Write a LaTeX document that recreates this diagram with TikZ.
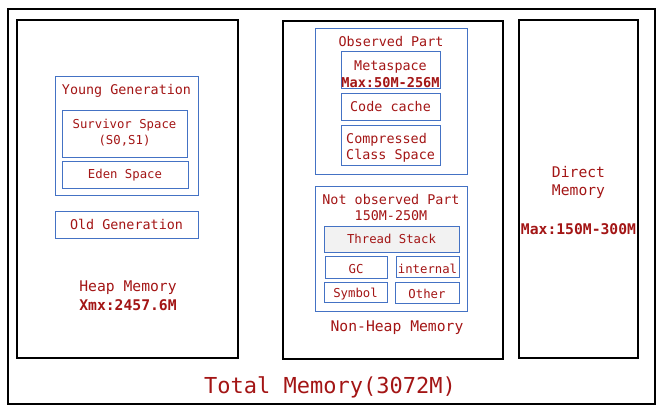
\documentclass[tikz,border=0pt]{standalone}
\usepackage{fontspec}
\setmainfont{DejaVu Sans Mono}
\usepackage{xcolor}
\definecolor{textred}{RGB}{163,21,21}
\definecolor{boxblue}{RGB}{68,114,196}
\definecolor{stackgray}{RGB}{242,242,242}

\tikzset{
	membox/.style={draw=black, line width=1.2pt},
	partbox/.style={draw=boxblue, line width=1pt, inner sep=0pt},
	small/.style={text=textred, inner sep=0pt, anchor=base, font=\fontsize{12.3}{15}\selectfont},
	lbl/.style={text=textred, inner sep=0pt, anchor=base, font=\fontsize{13.4}{16}\selectfont},
	biglbl/.style={text=textred, inner sep=0pt, anchor=base, font=\fontsize{14.7}{18}\selectfont},
}

\begin{document}
\begin{tikzpicture}[x=1pt, y=-1pt]
		\useasboundingbox (0,0) rectangle (664,416);
		
		% Rahmen Gesamtspeicher
		\draw[membox] (8,9) rectangle (655,404);
		\node[text=textred, inner sep=0pt, anchor=base, font=\fontsize{22}{26}\selectfont] (total) at (330,393) {Total Memory(3072M)};
		
		% Heap
		\draw[membox] (17,20) rectangle (238,358);
		\node[partbox, minimum width=143pt, minimum height=119pt] (young) at (126.5,135.5) {};
		\node[lbl] (young-label) at (126.5,94) {Young Generation};
		\node[partbox, minimum width=125pt, minimum height=47pt] (survivor) at (124.5,133.5) {};
		\node[small] (survivor-label) at (124.5,128) {Survivor Space};
		\node[small] (survivor-sub) at (124.5,144) {(S0,S1)};
		\node[partbox, minimum width=126pt, minimum height=27pt] (eden) at (125,174.5) {};
		\node[small] (eden-label) at (125,178) {Eden Space};
		\node[partbox, minimum width=143pt, minimum height=27pt] (old) at (126.5,224.5) {};
		\node[lbl] (old-label) at (126.5,229) {Old Generation};
		\node[biglbl] (heap) at (128,291) {Heap Memory};
		\node[biglbl, font=\fontsize{14.7}{18}\bfseries] (heap-max) at (128,310) {Xmx:2457.6M};
		
		% Non-Heap
		\draw[membox] (283,21) rectangle (503,359);
		\node[partbox, minimum width=152pt, minimum height=146pt] (observed) at (391,101) {};
		\node[lbl] (observed-label) at (391,46) {Observed Part};
		\node[partbox, minimum width=99pt, minimum height=37pt] (meta) at (390.5,69.5) {};
		\node[lbl] (meta-label) at (390.5,70) {Metaspace};
		\node[lbl, font=\fontsize{13.6}{16}\bfseries] (meta-max) at (390.5,87) {Max:50M-256M};
		\node[partbox, minimum width=99pt, minimum height=27pt] (code) at (390.5,106.5) {};
		\node[lbl] (code-label) at (390.5,111) {Code cache};
		\node[partbox, minimum width=99pt, minimum height=40pt] (compressed) at (390.5,145) {};
		\node[lbl, anchor=base west] (compressed-label) at (346,143) {Compressed};
		\node[lbl, anchor=base west] (compressed-sub) at (346,159) {Class Space};
		
		\node[partbox, minimum width=152pt, minimum height=125pt] (notobserved) at (391,248.5) {};
		\node[lbl] (notobserved-label) at (391,204) {Not observed Part};
		\node[lbl] (notobserved-sub) at (391,220) {150M-250M};
		\node[partbox, fill=stackgray, minimum width=135pt, minimum height=26pt] (thread) at (391.5,239) {};
		\node[small] (thread-label) at (391.5,243) {Thread Stack};
		\node[partbox, minimum width=62pt, minimum height=22pt] (gc) at (356,267) {};
		\node[small] (gc-label) at (356,273) {GC};
		\node[partbox, minimum width=63pt, minimum height=21pt] (internal) at (427.5,266.5) {};
		\node[small] (internal-label) at (427.5,273) {internal};
		\node[partbox, minimum width=63pt, minimum height=20pt] (symbol) at (355.5,292) {};
		\node[small] (symbol-label) at (355.5,297) {Symbol};
		\node[partbox, minimum width=64pt, minimum height=21pt] (other) at (427,292.5) {};
		\node[small] (other-label) at (427,298) {Other};
		\node[biglbl] (nonheap) at (397,331) {Non-Heap Memory};
		
		% Direct Memory
		\draw[membox] (519,20) rectangle (638,358);
		\node[biglbl] (direct) at (578.5,177) {Direct};
		\node[biglbl] (direct-sub) at (578.5,195) {Memory};
		\node[biglbl, font=\fontsize{14.7}{18}\bfseries] (direct-max) at (578.5,234) {Max:150M-300M};
	\end{tikzpicture}
\end{document}
